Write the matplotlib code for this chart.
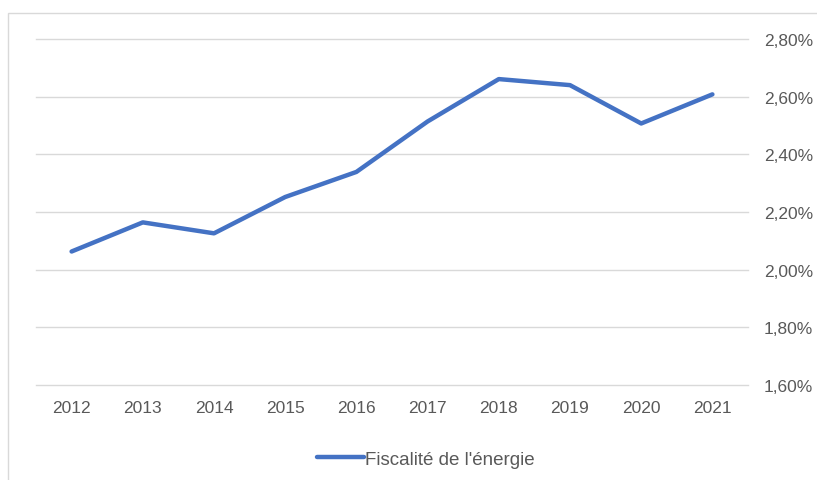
import matplotlib
matplotlib.use("Agg")
import matplotlib.pyplot as plt
from matplotlib.patches import Rectangle

years = ["2012", "2013", "2014", "2015", "2016", "2017", "2018", "2019", "2020", "2021"]
values = [2.063, 2.164, 2.126, 2.252, 2.339, 2.514, 2.661, 2.640, 2.507, 2.608]
yticks = [1.60, 1.80, 2.00, 2.20, 2.40, 2.60, 2.80]
series_name = "Fiscalité de l'énergie"

plt.rcParams['font.family'] = ['Liberation Sans', 'DejaVu Sans']
W, H = 817, 481
fig = plt.figure(figsize=(W/100, H/100), dpi=100)
fig.patch.set_facecolor('white')

# chart border
fig.patches.append(Rectangle((8/W, -0.1), 1.0, 1 - 14/H + 0.1, transform=fig.transFigure,
                             fill=False, edgecolor='#d9d9d9', linewidth=1.0))

ax = fig.add_axes([36/W, 1 - 386/H, (748-36)/W, (386-40)/H])
x = list(range(len(years)))
ax.plot(x, values, color='#4472C4', linewidth=3.2, solid_capstyle='round', label=series_name)
ax.set_xlim(-0.5, len(years) - 0.5)
ax.set_ylim(1.60, 2.80)
ax.set_yticks(yticks)
ax.set_yticklabels([f"{v:.2f}".replace('.', ',') + "%" for v in yticks])
ax.set_xticks(x)
ax.set_xticklabels(years)
ax.yaxis.tick_right()
ax.tick_params(axis='both', length=0, labelsize=12.5, colors='#595959')
ax.tick_params(axis='y', pad=11.5)
ax.tick_params(axis='x', pad=11)
ax.grid(axis='y', color='#d9d9d9', linewidth=1)
for gl in ax.get_ygridlines():
    gl.set_clip_on(False)
ax.set_axisbelow(True)
for s in ax.spines.values():
    s.set_visible(False)

leg = fig.legend(loc='center', bbox_to_anchor=(426/W, 1 - 460/H), frameon=False,
                 handlelength=2.5, handletextpad=0.05, fontsize=13.5)
for t in leg.get_texts():
    t.set_color('#595959')

fig.savefig('out.png', dpi=100, facecolor='white')
